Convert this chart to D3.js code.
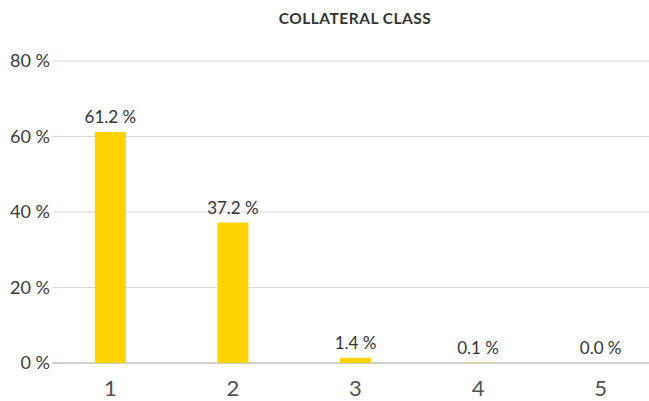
<!DOCTYPE html>
<html><head><meta charset="utf-8">
<script src="https://cdn.jsdelivr.net/npm/d3@7"></script>
<style>body{margin:0;background:#fff;} svg{display:block;font-family:Lato,"Open Sans",sans-serif;}</style>
</head><body>
<svg id="c" width="649" height="401"></svg>
<script>
const categories = ["1","2","3","4","5"];
const values = [61.2, 37.2, 1.4, 0.1, 0.0];
const yTicks = [0, 20, 40, 60, 80];
const title = "COLLATERAL CLASS";

const svg = d3.select("#c");
const x = d3.scaleBand().domain(categories).range([49, 662]).paddingInner(0.747).paddingOuter(0.374);
const y = d3.scaleLinear().domain([0, 80]).range([363, 61]);

svg.append("text").attr("x", 355).attr("y", 24).attr("text-anchor","middle")
  .attr("font-size", 15.5).attr("font-weight", 700).attr("letter-spacing", 0.5).attr("fill","#333").text(title);

const grid = svg.append("g");
grid.selectAll("line").data(yTicks).join("line")
  .attr("x1", 52).attr("x2", 649).attr("y1", d => y(d)).attr("y2", d => y(d))
  .attr("stroke", d => d === 0 ? "#bfbfbf" : "#d9d9d9").attr("stroke-width", d => d === 0 ? 1.5 : 1.2);

svg.append("g").selectAll("text").data(yTicks).join("text")
  .attr("x", 50).attr("y", d => y(d) + 6).attr("text-anchor","end")
  .attr("font-size", 18).attr("fill","#3a3a3a").text(d => d + " %");

svg.append("g").selectAll("rect").data(values).join("rect")
  .attr("x", (d,i) => x(categories[i])).attr("width", x.bandwidth())
  .attr("y", d => y(d)).attr("height", d => y(0) - y(d))
  .attr("fill", "#FFD200");

svg.append("g").selectAll("text").data(values).join("text")
  .attr("x", (d,i) => x(categories[i]) + x.bandwidth()/2).attr("y", d => y(d) - 9)
  .attr("text-anchor","middle").attr("font-size", 17).attr("fill","#333")
  .text(d => d.toFixed(1) + " %");

svg.append("g").selectAll("text").data(categories).join("text")
  .attr("x", d => x(d) + x.bandwidth()/2).attr("y", 396).attr("text-anchor","middle")
  .attr("font-size", 22).attr("fill","#505050").text(d => d);
</script>
</body></html>
